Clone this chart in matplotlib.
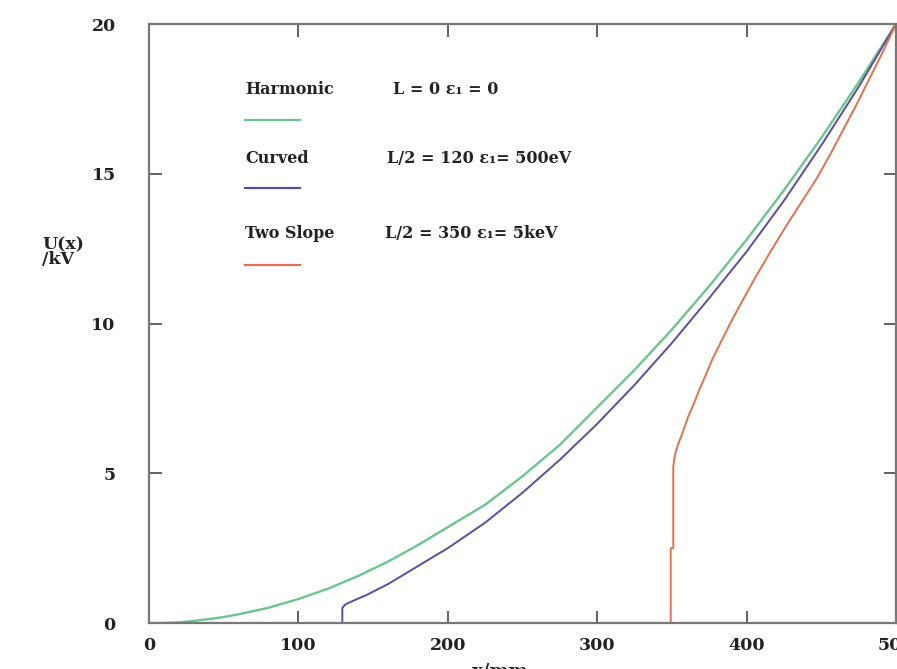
import numpy as np
import matplotlib
matplotlib.use("Agg")
import matplotlib.pyplot as plt
from matplotlib.lines import Line2D

# Harmonic  L = 0
x_harm = [0, 10, 20, 30, 40, 50, 60, 80, 100, 120, 140, 160, 180, 200, 225, 250,
          275, 300, 325, 350, 375, 400, 425, 450, 475, 500]
u_harm = [0, 0, 0.02, 0.07, 0.13, 0.2, 0.29, 0.51, 0.8, 1.15, 1.57, 2.05, 2.6, 3.2,
          3.95, 4.9, 5.95, 7.2, 8.45, 9.8, 11.25, 12.8, 14.45, 16.2, 18.05, 20]

# Curved  L/2 = 120
x_curv = [129.4, 129.4, 131, 133, 137, 145, 160, 180, 200, 225, 250, 275, 300, 325,
          350, 375, 400, 425, 450, 475, 500]
u_curv = [0, 0.5, 0.6, 0.66, 0.75, 0.92, 1.3, 1.9, 2.5, 3.35, 4.35, 5.45, 6.65, 7.95,
          9.35, 10.85, 12.4, 14.1, 15.95, 17.9, 20]

# Two slope  L/2 = 350
x_two = [349.2, 349.2, 350.9, 350.9, 351.5, 352.5, 354, 356, 358.5, 361, 364.5, 368, 372,
         377, 383, 389, 396, 406, 416, 427, 438, 447, 456, 465, 474, 482, 491, 500]
u_two = [0, 2.5, 2.5, 5.2, 5.45, 5.7, 5.95, 6.2, 6.55, 6.9, 7.3, 7.75, 8.2, 8.8, 9.4,
         10.0, 10.65, 11.55, 12.4, 13.3, 14.15, 14.85, 15.65, 16.5, 17.35, 18.15, 19.05, 20]

names = ["Harmonic", "Curved", "Two Slope"]
params = ["L = 0 \u03b5\u2081 = 0", "L/2 = 120 \u03b5\u2081= 500eV", "L/2 = 350 \u03b5\u2081= 5keV"]
colors = ["#6cc48e", "#5b4ca0", "#e2714f"]

plt.rcParams['font.family'] = ['DejaVu Serif']

fig = plt.figure(figsize=(8.97, 6.69), dpi=100)
ax = fig.add_axes([149/897, 46/669, 747/897, 599/669])

ax.plot(x_harm, u_harm, color=colors[0], lw=1.7)
ax.plot(x_curv, u_curv, color=colors[1], lw=1.4)
ax.plot(x_two, u_two, color=colors[2], lw=1.4)

ax.set_xlim(0, 500)
ax.set_ylim(0, 20)
ax.set_xticks([0, 100, 200, 300, 400, 500])
ax.set_yticks([0, 5, 10, 15, 20])
ax.tick_params(direction='in', length=9, width=1.3, color='#555555',
               top=True, right=True, labelsize=12.5, pad=10, labelcolor='#222222')
for lab in ax.get_xticklabels() + ax.get_yticklabels():
    lab.set_fontweight('bold')
ax.tick_params(axis='y', pad=24)
for s in ax.spines.values():
    s.set_color('#777777')
    s.set_linewidth(1.6)

fig.text(42/897, 1 - 252/669, "U(x)\n/kV", fontsize=12.5, fontweight='bold',
         color='#222222', ha='left', va='center', linespacing=0.85)
fig.text(500/897, -11/669, "x/mm", fontsize=13, fontweight='bold',
         color='#222222', ha='center', va='bottom')

# legend-like key drawn in axes fraction
text_y = [0.89, 0.776, 0.651]
line_y = [0.84, 0.726, 0.598]
param_x = [0.327, 0.319, 0.316]
for i in range(3):
    ax.text(0.1285, text_y[i], names[i], transform=ax.transAxes, fontsize=11.5,
            fontweight='bold', color='#222222', va='center')
    ax.text(param_x[i], text_y[i], params[i], transform=ax.transAxes, fontsize=11.5,
            fontweight='bold', color='#222222', va='center')
    ax.add_line(Line2D([0.1285, 0.202], [line_y[i], line_y[i]], transform=ax.transAxes,
                       color=colors[i], lw=1.6))

fig.savefig("out.png", dpi=100)
